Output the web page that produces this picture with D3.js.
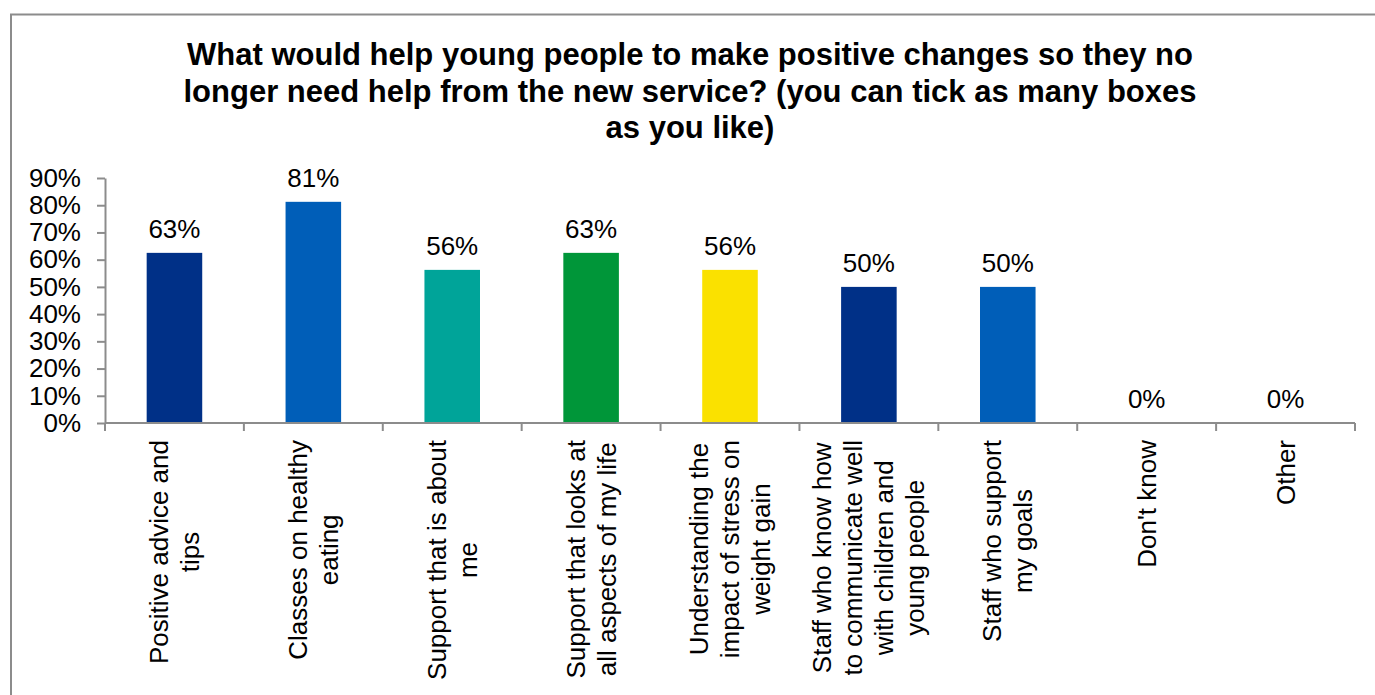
<!DOCTYPE html>
<html>
<head>
<meta charset="utf-8">
<script src="https://cdnjs.cloudflare.com/ajax/libs/d3/7.8.5/d3.min.js"></script>
<style>
  html, body { margin: 0; padding: 0; background: #fff; }
  svg { display: block; }
  text { font-family: Arial, "Liberation Sans", sans-serif; fill: #000; }
</style>
</head>
<body>
<svg id="chart" width="1375" height="695"></svg>
<script>
// ---- data ----
const categories = [
  "Positive advice and tips",
  "Classes on healthy eating",
  "Support that is about me",
  "Support that looks at all aspects of my life",
  "Understanding the impact of stress on weight gain",
  "Staff who know how to communicate well with children and young people",
  "Staff who support my goals",
  "Don't know",
  "Other"
];
const categoryLines = [
  ["Positive advice and", "tips"],
  ["Classes on healthy", "eating"],
  ["Support that is about", "me"],
  ["Support that looks at", "all aspects of my life"],
  ["Understanding the", "impact of stress on", "weight gain"],
  ["Staff who know how", "to communicate well", "with children and", "young people"],
  ["Staff who support", "my goals"],
  ["Don't know"],
  ["Other"]
];
const values = [0.625, 0.8125, 0.5625, 0.625, 0.5625, 0.5, 0.5, 0, 0];
const yTicks = [0, 0.1, 0.2, 0.3, 0.4, 0.5, 0.6, 0.7, 0.8, 0.9];
const titleLines = [
  "What would help young people to make positive changes so they no",
  "longer need help from the new service? (you can tick as many boxes",
  "as you like)"
];
const barColors = ["#003087", "#005EB8", "#00A499", "#009639", "#FAE100", "#003087", "#005EB8", "#003087", "#005EB8"];

// ---- layout ----
const svg = d3.select("#chart");
const axisColor = "#8c8c8c";
const plot = { left: 105, right: 1355, top: 178, bottom: 423 };
const fs = 26;

// outer frame
svg.append("rect")
  .attr("x", 11).attr("y", 14.5)
  .attr("width", 1400).attr("height", 720)
  .attr("fill", "none").attr("stroke", axisColor).attr("stroke-width", 2);

// title
svg.append("g").selectAll("text").data(titleLines).join("text")
  .attr("x", 690).attr("y", (d, i) => 65 + i * 36.5)
  .attr("text-anchor", "middle")
  .style("font-weight", "bold").style("font-size", "31px")
  .text(d => d);

const x = d3.scaleBand().domain(categories).range([plot.left, plot.right])
  .paddingInner(0.6).paddingOuter(0.3);
const y = d3.scaleLinear().domain([0, 0.9]).range([plot.bottom, plot.top]);

// y axis
const yAxis = d3.axisLeft(y).tickValues(yTicks).tickFormat(d3.format(".0%"))
  .tickSize(8).tickSizeOuter(0).tickPadding(16);
const gy = svg.append("g").attr("transform", `translate(${plot.left},0)`).call(yAxis);
gy.select(".domain").attr("stroke", axisColor).attr("stroke-width", 2);
gy.selectAll(".tick line").attr("stroke", axisColor).attr("stroke-width", 2);
gy.selectAll(".tick text").style("font-size", fs + "px")
  .style("font-family", "Arial, 'Liberation Sans', sans-serif").attr("fill", "#000");

// bars
svg.append("g").selectAll("rect").data(values).join("rect")
  .attr("x", (d, i) => x(categories[i]))
  .attr("width", x.bandwidth())
  .attr("y", d => y(d))
  .attr("height", d => y(0) - y(d))
  .attr("fill", (d, i) => barColors[i]);

// x axis line and boundary ticks
const step = x.step();
const x0 = x(categories[0]) - x.paddingOuter() * step;
const boundaries = d3.range(categories.length + 1).map(i => x0 + i * step);
svg.append("line")
  .attr("x1", plot.left).attr("x2", plot.right)
  .attr("y1", y(0)).attr("y2", y(0))
  .attr("stroke", axisColor).attr("stroke-width", 2);
svg.append("g").selectAll("line").data(boundaries).join("line")
  .attr("x1", d => d).attr("x2", d => d)
  .attr("y1", y(0)).attr("y2", y(0) + 8)
  .attr("stroke", axisColor).attr("stroke-width", 2);

// data labels
const fmt = d3.format(".0%");
svg.append("g").selectAll("text").data(values).join("text")
  .attr("x", (d, i) => x(categories[i]) + x.bandwidth() / 2)
  .attr("y", d => y(d) - 15)
  .attr("text-anchor", "middle")
  .style("font-size", fs + "px")
  .text(d => fmt(d));

// category labels (rotated, multi-line, centred lines, block top aligned)
const lineH = 31;
const labelTop = 440;
categoryLines.forEach((lines, i) => {
  const cx = x(categories[i]) + x.bandwidth() / 2;
  const g = svg.append("g");
  const texts = g.selectAll("text").data(lines).join("text")
    .attr("text-anchor", "middle")
    .style("font-size", fs + "px")
    .text(d => d);
  let maxLen = 0;
  texts.each(function () { maxLen = Math.max(maxLen, this.getComputedTextLength()); });
  const cy = labelTop + maxLen / 2;
  const n = lines.length;
  texts.attr("transform", (d, j) => {
    const lx = cx + (j - (n - 1) / 2) * lineH + fs * 0.35;
    return `translate(${lx},${cy}) rotate(-90)`;
  });
});
</script>
</body>
</html>
